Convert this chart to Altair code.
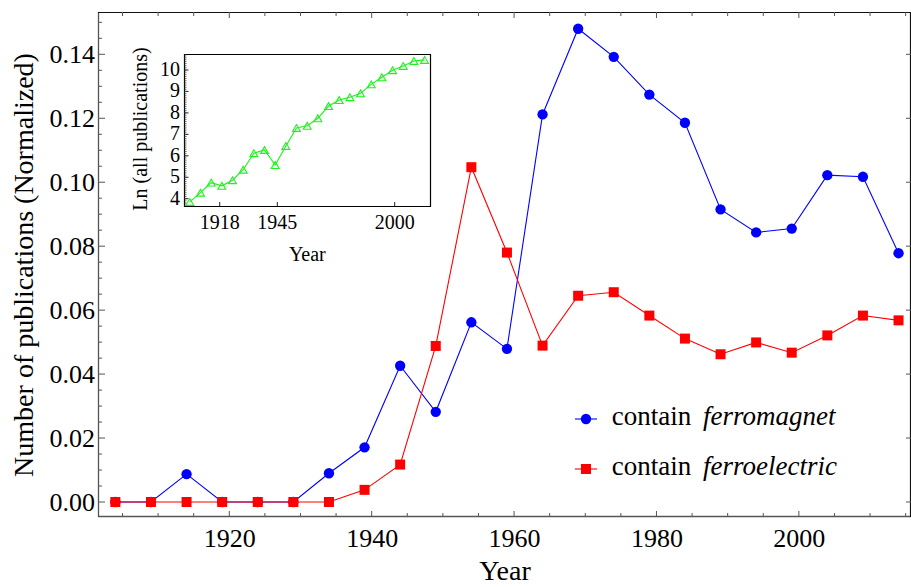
import altair as alt
import pandas as pd

# ---- data -----------------------------------------------------------------
years = [1904, 1909, 1914, 1919, 1924, 1929, 1934, 1939, 1944, 1949, 1954, 1959,
         1964, 1969, 1974, 1979, 1984, 1989, 1994, 1999, 2004, 2009, 2014]
ferromagnet = [0.0, 0.0, 0.0087, 0.0, 0.0, 0.0, 0.0090, 0.0171, 0.0426, 0.0282,
               0.0562, 0.0479, 0.1212, 0.1480, 0.1392, 0.1274, 0.1186, 0.0915,
               0.0843, 0.0855, 0.1022, 0.1017, 0.0778]
ferroelectric = [0.0, 0.0, 0.0, 0.0, 0.0, 0.0, 0.0, 0.0038, 0.0117, 0.0488,
                 0.1047, 0.0780, 0.0489, 0.0645, 0.0656, 0.0583, 0.0511, 0.0462,
                 0.0499, 0.0467, 0.0521, 0.0583, 0.0568]
ln_all = [3.85, 4.28, 4.75, 4.60, 4.86, 5.35, 6.12, 6.27, 5.57, 6.46, 7.30, 7.40,
          7.75, 8.32, 8.60, 8.73, 8.91, 9.33, 9.66, 9.99, 10.19, 10.42, 10.47]

x_major = [1920, 1940, 1960, 1980, 2000]
x_minor = [y for y in range(1905, 2016, 5) if y not in x_major]
y_major = [0.00, 0.02, 0.04, 0.06, 0.08, 0.10, 0.12, 0.14]
y_minor = [round(0.005 * k, 3) for k in range(1, 31) if k % 4]

inset_x_ticks = [1918, 1945, 2000]
inset_y_ticks = [4, 5, 6, 7, 8, 9, 10]
inset_y_minor = [round(3.7 + 0.1 * k, 1) for k in range(0, 71)]

legend_plain = ["contain", "contain"]
legend_italic = ["ferromagnet", "ferroelectric"]

main_df = pd.DataFrame({"year": years, "ferromagnet": ferromagnet,
                        "ferroelectric": ferroelectric})
inset_df = pd.DataFrame({"year": years, "ln": ln_all})

# ---- styling ----------------------------------------------------------------
FONT = "Liberation Serif"
W, H = 813, 505
BLUE, RED, GREEN = "#0000ff", "#ff0000", "#19f519"
FRAME = "#555555"

XM = alt.Scale(domain=[1901.56, 2015.75], nice=False, zero=False)
YM = alt.Scale(domain=[-0.00469, 0.15323], nice=False, zero=False)
XI = alt.Scale(domain=[1901.41, 2016.87], range=[86.3, 332.7], nice=False, zero=False)
YI = alt.Scale(domain=[3.66, 10.746], range=[194, 42], nice=False, zero=False)

x_axis = alt.Axis(values=x_major, format="d", ticks=False, tickSize=0, domain=False,
                  grid=False, labelFont=FONT, labelFontSize=26, labelColor="black",
                  labelBaseline="alphabetic", labelPadding=29.5, labelFlush=False,
                  title="Year", titleFont=FONT, titleFontSize=28,
                  titleFontWeight="normal", titleColor="black", titleY=62,
                  titleBaseline="alphabetic")
y_axis = alt.Axis(values=y_major, format=".2f", ticks=False, tickSize=0, domain=False,
                  grid=False, labelFont=FONT, labelFontSize=26, labelColor="black",
                  labelPadding=3.5, labelFlush=False,
                  title="Number of publications (Normalized)", titleFont=FONT,
                  titleFontSize=28, titleFontWeight="normal", titleColor="black",
                  titleAngle=270, titleX=-65.5, titleBaseline="alphabetic")


def xm(field="year", axis=None):
    return alt.X(f"{field}:Q", scale=XM, axis=axis)


def ym(field, axis=None):
    return alt.Y(f"{field}:Q", scale=YM, axis=axis)


# ---- main series ------------------------------------------------------------
blue_line = alt.Chart(main_df).mark_line(color=BLUE, strokeWidth=1.1).encode(
    x=xm("year", x_axis), y=ym("ferromagnet", y_axis))
blue_pts = alt.Chart(main_df).mark_point(shape="circle", filled=True, size=107,
                                         color=BLUE, opacity=1).encode(
    x=xm(), y=ym("ferromagnet"))
red_line = alt.Chart(main_df).mark_line(color=RED, strokeWidth=1.1).encode(
    x=xm(), y=ym("ferroelectric"))
red_pts = alt.Chart(main_df).mark_point(shape="square", filled=True, size=100,
                                        color=RED, opacity=1).encode(
    x=xm(), y=ym("ferroelectric"))

# ---- frame and inward ticks ---------------------------------------------------
xmaj_df = pd.DataFrame({"t": x_major})
xmin_df = pd.DataFrame({"t": x_minor})
ymaj_df = pd.DataFrame({"t": y_major})
ymin_df = pd.DataFrame({"t": y_minor})

one = pd.DataFrame({"k": [0]})
frame = [
    alt.Chart(one).mark_rule(color=FRAME, strokeWidth=1.3).encode(
        x=alt.value(0.5), y=alt.value(0), y2=alt.value(H)),
    alt.Chart(one).mark_rule(color=FRAME, strokeWidth=1.3).encode(
        x=alt.value(0), x2=alt.value(W), y=alt.value(H - 0.5)),
    alt.Chart(one).mark_rule(color="#111111", strokeWidth=1.2).encode(
        x=alt.value(0), x2=alt.value(W), y=alt.value(0.5)),
    alt.Chart(one).mark_rule(color="#111111", strokeWidth=1.2).encode(
        x=alt.value(W - 0.5), y=alt.value(0), y2=alt.value(H)),
]

ticks = [
    alt.Chart(xmaj_df).mark_rule(color=FRAME).encode(
        x=xm("t"), y=alt.value(H), y2=alt.value(H - 6)),
    alt.Chart(xmin_df).mark_rule(color=FRAME).encode(
        x=xm("t"), y=alt.value(H), y2=alt.value(H - 4)),
    alt.Chart(xmaj_df).mark_rule(color=FRAME).encode(
        x=xm("t"), y=alt.value(0), y2=alt.value(6)),
    alt.Chart(xmin_df).mark_rule(color=FRAME).encode(
        x=xm("t"), y=alt.value(0), y2=alt.value(4)),
    alt.Chart(ymaj_df).mark_rule(color=FRAME).encode(
        y=ym("t"), x=alt.value(0), x2=alt.value(7)),
    alt.Chart(ymin_df).mark_rule(color=FRAME).encode(
        y=ym("t"), x=alt.value(0), x2=alt.value(4)),
    alt.Chart(ymaj_df).mark_rule(color=FRAME).encode(
        y=ym("t"), x=alt.value(W), x2=alt.value(W - 5)),
]

# ---- inset: log of all publications -----------------------------------------
inset_frame = alt.Chart(one).mark_rect(fill="white", stroke="black",
                                       strokeWidth=1.2).encode(
    x=alt.value(86.5), x2=alt.value(332.5), y=alt.value(42.5), y2=alt.value(194.5))

iy_df = pd.DataFrame({"t": inset_y_ticks})
iymin_df = pd.DataFrame({"t": inset_y_minor})
ix_df = pd.DataFrame({"t": inset_x_ticks})

inset_ticks = [
    alt.Chart(iy_df).mark_rule(color="#222222").encode(
        y=alt.Y("t:Q", scale=YI, axis=None), x=alt.value(86.5), x2=alt.value(90.5)),
    alt.Chart(iymin_df).mark_rule(color="#444444", strokeWidth=0.8).encode(
        y=alt.Y("t:Q", scale=YI, axis=None), x=alt.value(86.5), x2=alt.value(88.5)),
    alt.Chart(ix_df).mark_rule(color="#222222").encode(
        x=alt.X("t:Q", scale=XI, axis=None), y=alt.value(194), y2=alt.value(190)),
]

inset_labels = [
    alt.Chart(iy_df).mark_text(font=FONT, fontSize=20, align="right",
                               baseline="middle", color="black").encode(
        y=alt.Y("t:Q", scale=YI, axis=None), x=alt.value(82), text="t:N"),
    alt.Chart(ix_df).mark_text(font=FONT, fontSize=20, align="center",
                               baseline="alphabetic", color="black").encode(
        x=alt.X("t:Q", scale=XI, axis=None), y=alt.value(217.3), text="t:N"),
    alt.Chart(pd.DataFrame({"s": ["Year"]})).mark_text(
        font=FONT, fontSize=20, align="center", baseline="alphabetic",
        color="black").encode(x=alt.value(209.3), y=alt.value(249), text="s:N"),
    alt.Chart(pd.DataFrame({"s": ["Ln (all publications)"]})).mark_text(
        font=FONT, fontSize=20, align="center", baseline="alphabetic", angle=270,
        color="black").encode(x=alt.value(48.5), y=alt.value(117), text="s:N"),
]

inset_line = alt.Chart(inset_df).mark_line(color=GREEN, strokeWidth=1.1).encode(
    x=alt.X("year:Q", scale=XI, axis=None), y=alt.Y("ln:Q", scale=YI, axis=None))
inset_pts = alt.Chart(inset_df).mark_point(shape="triangle-up", filled=False,
                                           size=62, color=GREEN, strokeWidth=1.1,
                                           opacity=1).encode(
    x=alt.X("year:Q", scale=XI, axis=None), y=alt.Y("ln:Q", scale=YI, axis=None))

# ---- legend -----------------------------------------------------------------
leg = []
for i, (col, shape, size) in enumerate([(BLUE, "circle", 107), (RED, "square", 100)]):
    yy = 407 + 50 * i
    leg.append(alt.Chart(one).mark_rule(color=col, strokeWidth=1.1).encode(
        x=alt.value(477), x2=alt.value(499), y=alt.value(yy)))
    leg.append(alt.Chart(one).mark_point(shape=shape, filled=True, size=size,
                                         color=col, opacity=1).encode(
        x=alt.value(488), y=alt.value(yy)))
    leg.append(alt.Chart(pd.DataFrame({"s": [legend_plain[i]]})).mark_text(
        font=FONT, fontSize=27, align="left", baseline="alphabetic",
        color="black").encode(x=alt.value(513.7), y=alt.value(yy + 6), text="s:N"))
    leg.append(alt.Chart(pd.DataFrame({"s": [legend_italic[i]]})).mark_text(
        font=FONT, fontSize=27, fontStyle="italic", align="left",
        baseline="alphabetic", color="black").encode(
        x=alt.value(605), y=alt.value(yy + 6), text="s:N"))

chart = alt.layer(
    *frame, *ticks,
    blue_line, blue_pts, red_line, red_pts,
    inset_frame, *inset_ticks, inset_line, inset_pts, *inset_labels,
    *leg,
).resolve_scale(x="independent", y="independent").properties(
    width=W, height=H,
    padding={"left": 98, "top": 12, "right": 0, "bottom": 70},
    autosize=alt.AutoSizeParams(type="none"),
    background="white",
).configure_view(stroke=None)

chart.save("out.html", embed_options={"renderer": "svg", "actions": False})
